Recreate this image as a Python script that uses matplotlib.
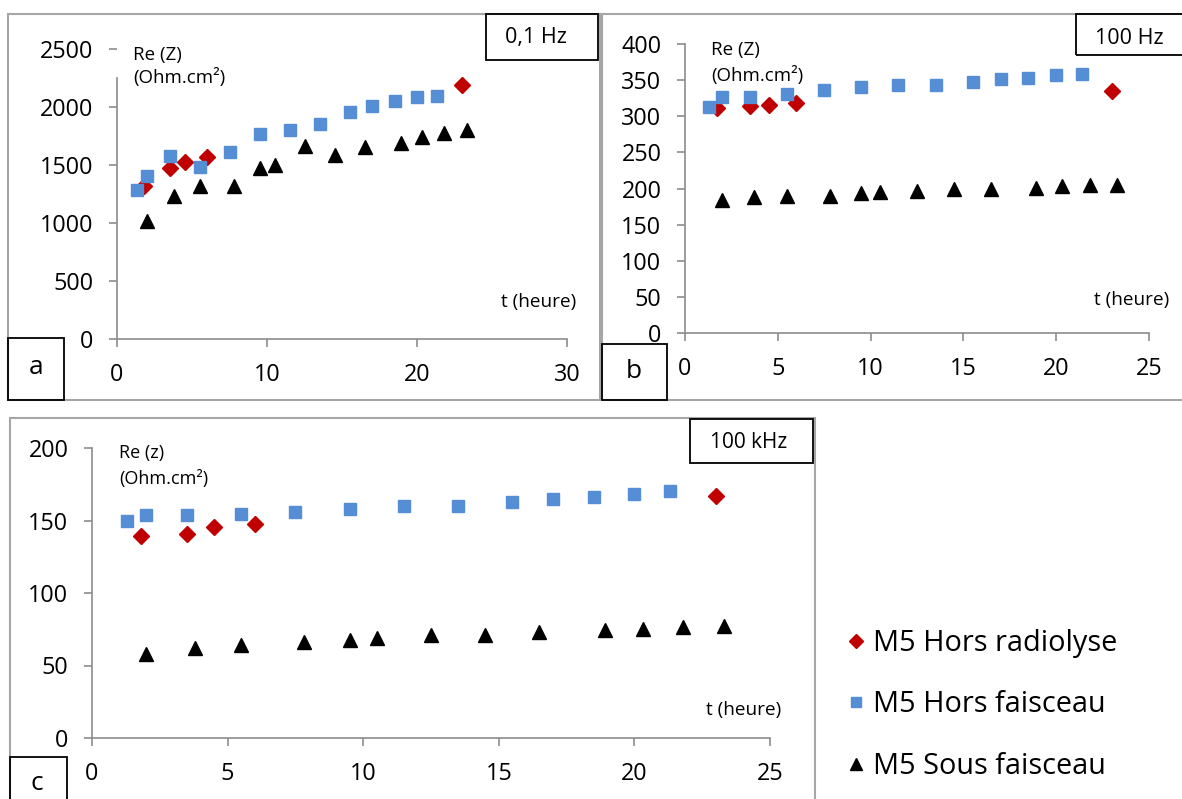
import matplotlib
matplotlib.use("Agg")
import matplotlib.pyplot as plt
from matplotlib.patches import Rectangle

plt.rcParams['font.family'] = ['Open Sans', 'DejaVu Sans']

# --- données ---
# a : 0,1 Hz
t_rad_a = [1.8, 3.5, 4.5, 6.0, 23.0]
re_rad_a = [1315, 1473, 1525, 1568, 2192]
t_hf_a = [1.3, 2.0, 3.5, 5.5, 7.5, 9.5, 11.5, 13.5, 15.5, 17.0, 18.5, 20.0, 21.3]
re_hf_a = [1286, 1407, 1574, 1487, 1608, 1764, 1798, 1856, 1953, 2011, 2048, 2086, 2094]
t_sf_a = [2.0, 3.8, 5.5, 7.8, 9.5, 10.5, 12.5, 14.5, 16.5, 18.9, 20.3, 21.8, 23.3]
re_sf_a = [1018, 1234, 1315, 1323, 1473, 1502, 1660, 1588, 1651, 1689, 1740, 1775, 1804]

# b : 100 Hz
t_rad_b = [1.7, 3.5, 4.5, 6.0, 23.0]
re_rad_b = [311, 314, 316, 318, 335]
t_hf_b = [1.3, 2.0, 3.5, 5.5, 7.5, 9.5, 11.5, 13.5, 15.5, 17.0, 18.5, 20.0, 21.4]
re_hf_b = [313, 326, 327, 331, 337, 340, 343, 343, 348, 351, 353, 357, 358]
t_sf_b = [2.0, 3.7, 5.5, 7.8, 9.5, 10.5, 12.5, 14.5, 16.5, 18.9, 20.3, 21.8, 23.3]
re_sf_b = [184, 188, 189, 189, 194, 195, 197, 199, 200, 201, 204, 205, 205]

# c : 100 kHz
t_rad_c = [1.8, 3.5, 4.5, 6.0, 23.0]
re_rad_c = [139, 141, 145.5, 147.8, 166.7]
t_hf_c = [1.3, 2.0, 3.5, 5.5, 7.5, 9.5, 11.5, 13.5, 15.5, 17.0, 18.5, 20.0, 21.3]
re_hf_c = [149.4, 154, 154, 154.7, 156, 158, 159.8, 160.2, 162.5, 165, 166.4, 168.5, 170.6]
t_sf_c = [2.0, 3.8, 5.5, 7.8, 9.5, 10.5, 12.5, 14.5, 16.5, 18.9, 20.3, 21.8, 23.3]
re_sf_c = [58, 62, 64, 66, 67.8, 69, 70.8, 71.3, 73, 74.7, 75.4, 76.3, 77.5]

labels = ['M5 Hors radiolyse', 'M5 Hors faisceau', 'M5 Sous faisceau']

W, H = 1182, 799
fig = plt.figure(figsize=(W / 100, H / 100), dpi=100)


def fx(x):
    return x / W


def fy(y):
    return 1 - y / H


def panel(left, right, top, bottom, xmax, xstep, ymax, ystep,
          t1, r1, t2, r2, t3, r3):
    ax = fig.add_axes([fx(left), fy(bottom), fx(right - left), (bottom - top) / H])
    l1, = ax.plot(t1, r1, 'D', ms=7.8, color='#C00000', clip_on=False, label=labels[0])
    l2, = ax.plot(t2, r2, 's', ms=8.6, color='#558ED5', clip_on=False, label=labels[1])
    l3, = ax.plot(t3, r3, '^', ms=10, color='black', clip_on=False, label=labels[2])
    ax.set_xlim(0, xmax)
    ax.set_ylim(0, ymax)
    ax.set_xticks(range(0, xmax + 1, xstep))
    ax.set_yticks(range(0, ymax + 1, ystep))
    for s in ['top', 'right']:
        ax.spines[s].set_visible(False)
    for s in ['left', 'bottom']:
        ax.spines[s].set_color('#8c8c8c')
        ax.spines[s].set_linewidth(1.2)
    ax.tick_params(direction='out', length=6, width=1.2, color='#8c8c8c',
                   labelsize=16.8, pad=11)
    ax.patch.set_alpha(0)
    return ax, (l1, l2, l3)


ax_a, _ = panel(117, 567, 49, 339, 30, 10, 2500, 500,
                t_rad_a, re_rad_a, t_hf_a, re_hf_a, t_sf_a, re_sf_a)
ax_a.spines['left'].set_bounds(0, 2250)
ax_b, _ = panel(685, 1149, 44, 333, 25, 5, 400, 50,
                t_rad_b, re_rad_b, t_hf_b, re_hf_b, t_sf_b, re_sf_b)
ax_c, handles = panel(92, 770, 448, 738, 25, 5, 200, 50,
                      t_rad_c, re_rad_c, t_hf_c, re_hf_c, t_sf_c, re_sf_c)


def rect(x0, y0, x1, y1, color, lw):
    fig.add_artist(Rectangle((fx(x0), fy(y1)), fx(x1 - x0), (y1 - y0) / H,
                             transform=fig.transFigure, fill=False,
                             edgecolor=color, linewidth=lw, clip_on=False))


# cadres gris des graphes
rect(8, 14, 600, 400, '#a6a6a6', 1.5)
rect(602, 14, 1190, 400, '#a6a6a6', 1.5)
rect(10, 418, 815, 805, '#a6a6a6', 1.5)

# cadres noirs des étiquettes
rect(486, 14, 598, 60, 'black', 1.3)
rect(1076, 14, 1190, 55, 'black', 1.3)
rect(690, 419, 813, 463, 'black', 1.3)
rect(8, 338, 64, 400, 'black', 1.3)
rect(602, 344, 667, 400, 'black', 1.3)
rect(10, 757, 67, 805, 'black', 1.3)


def txt(x, y, s, size, ha='left'):
    fig.text(fx(x), fy(y), s, fontsize=size, ha=ha, va='center')


txt(133, 55, 'Re (Z)', 13.5)
txt(133, 77, '(Ohm.cm²)', 13.5)
txt(501, 302, 't (heure)', 13.7)
txt(536, 38, '0,1 Hz', 15.5, 'center')
txt(36, 368, 'a', 19, 'center')

txt(711, 50, 'Re (Z)', 13.5)
txt(711, 75, '(Ohm.cm²)', 13.5)
txt(1094, 300, 't (heure)', 13.7)
txt(1129, 38, '100 Hz', 15.5, 'center')
txt(634, 372, 'b', 19, 'center')

txt(119, 453, 'Re (z)', 13)
txt(119, 479, '(Ohm.cm²)', 13)
txt(706, 710, 't (heure)', 13.7)
txt(749, 442, '100 kHz', 15, 'center')
txt(37, 783, 'c', 19, 'center')

fig.legend(handles=handles, labels=labels, loc='upper left',
           bbox_to_anchor=(fx(847), fy(629)), frameon=False, fontsize=20.8,
           handlelength=0.6, handletextpad=0.3, labelspacing=1.12,
           borderaxespad=0, borderpad=0, markerscale=0.85)

fig.savefig('out.png', dpi=100)
